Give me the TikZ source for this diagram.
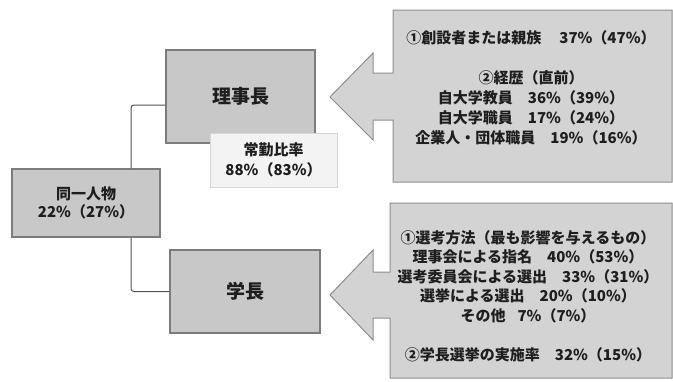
\documentclass[tikz,border=0pt]{standalone}
\usepackage{fontspec}
\setmainfont{Noto Sans CJK JP}
\definecolor{boxfill}{HTML}{C8C8C8}
\definecolor{boxline}{HTML}{7C7C7C}
\definecolor{arrfill}{HTML}{D3D3D3}
\definecolor{arrline}{HTML}{8E8E8E}
\definecolor{notefill}{HTML}{F3F3F3}
\definecolor{noteline}{HTML}{D6D6D6}
\definecolor{txt}{HTML}{1E1E1E}
\definecolor{conn}{HTML}{555555}
\begin{document}
\begin{tikzpicture}[x=1pt,y=-1pt,
  mainbox/.style={draw=boxline, fill=boxfill, line width=1.2pt, inner sep=0pt, text=txt, align=center},
  notebox/.style={draw=noteline, fill=notefill, line width=0.8pt, inner sep=0pt, text=txt, align=center,
    font=\fontsize{15}{20}\selectfont\bfseries},
  panel/.style={draw=arrline, fill=arrfill, line width=1pt},
  paneltext/.style={text=txt, align=center, inner sep=0pt},
  connector/.style={draw=conn, line width=1pt, rounded corners=3pt}]
\useasboundingbox (0,0) rectangle (673,381);
\fill[white] (0,0) rectangle (673,381);

% arrow panels
\draw[panel] (393,10) -- (672,10) -- (672,182) -- (393,182) -- (393,120) -- (373,120)
  -- (373,140) -- (330,97) -- (373,53) -- (373,73) -- (393,73) -- cycle;
\draw[panel] (390,203) -- (672,203) -- (672,378) -- (390,378) -- (390,318) -- (373,318)
  -- (373,340) -- (330,295) -- (373,250) -- (373,272) -- (390,272) -- cycle;

\node[paneltext, font=\fontsize{15}{20}\selectfont\bfseries] (toptext) at (531,87.5)
  {①創設者または親族\hspace{1.2em}37\%（47\%）\\[20pt]
   ②経歴（直前）\\
   自大学教員\hspace{1em}36\%（39\%）\\
   自大学職員\hspace{1em}17\%（24\%）\\
   企業人・団体職員\hspace{1em}19\%（16\%）};

\node[paneltext, font=\fontsize{15}{19.5}\selectfont\bfseries] (bottext) at (528,296)
  {①選考方法（最も影響を与えるもの）\\
   理事会による指名\hspace{1em}40\%（53\%）\\
   選考委員会による選出\hspace{1em}33\%（31\%）\\
   選挙による選出\hspace{1em}20\%（10\%）\\
   その他\hspace{0.8em}7\%（7\%）\\[19.5pt]
   ②学長選挙の実施率\hspace{1em}32\%（15\%）};

% main boxes
\node[mainbox, minimum width=148pt, minimum height=68pt,
  font=\fontsize{15}{18}\selectfont\bfseries] (same) at (86,203) {同一人物\\22\%（27\%）};
\node[mainbox, minimum width=149pt, minimum height=93pt,
  font=\fontsize{19}{22}\selectfont\bfseries] (riji) at (240.5,96.5) {理事長};
\node[mainbox, minimum width=150pt, minimum height=83pt,
  font=\fontsize{19}{22}\selectfont\bfseries] (gaku) at (245,291.5) {学長};
\node[notebox, minimum width=127pt, minimum height=54pt] (jokin) at (273.5,160) {常勤比率\\88\%（83\%）};

% connectors
\draw[connector] ([xshift=45pt]same.north) |- ([yshift=-8.5pt]riji.west);
\draw[connector] ([xshift=45pt]same.south) |- (gaku.west);
\end{tikzpicture}
\end{document}
